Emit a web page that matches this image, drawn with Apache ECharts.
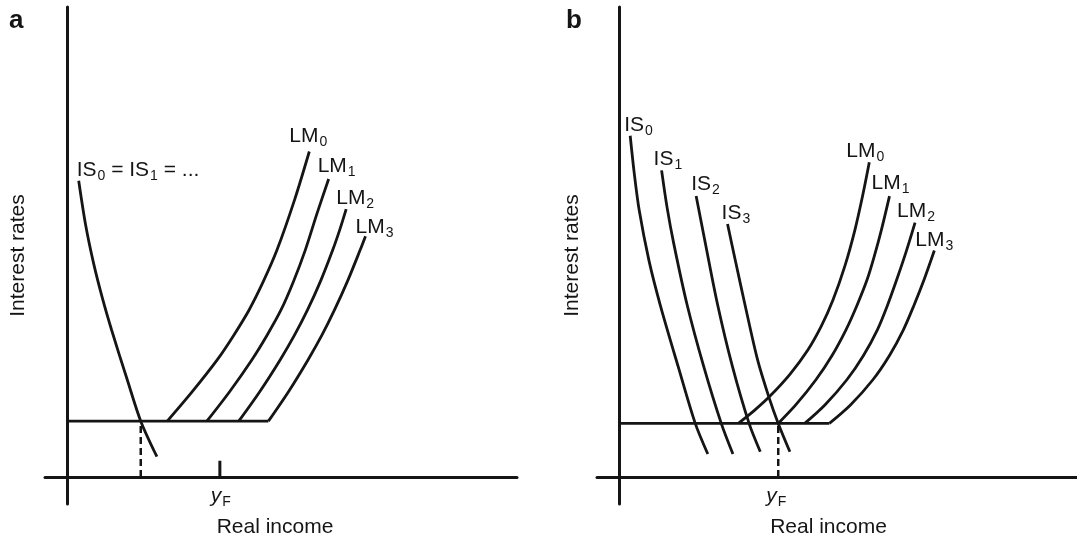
<!DOCTYPE html>
<html><head><meta charset="utf-8">
<script src="https://cdn.jsdelivr.net/npm/echarts@6/dist/echarts.min.js"></script>
<style>html,body{margin:0;padding:0;background:#fff}#c{width:1077px;height:539px}</style>
</head><body><div id="c"></div>
<script>
// ---------------- DATA : panel a ----------------
const aIS  = [[2.5,65.8],[4,56.2],[5.8,47.5],[7.8,39.6],[9.8,32.7],[13.3,21.6],[16.3,12.4],[19.9,4.5]];
const aLM0 = [[22.2,12.4],[27.8,19],[33.3,26],[37,31.5],[40.4,37.1],[43.6,43.5],[46.6,50.4],[50.5,61.5],[53.8,72.3]];
const aLM1 = [[31,12.4],[36.1,19],[41,26],[44.4,31.5],[47.5,37.1],[50.3,43.5],[52.9,50.4],[55.5,58.5],[58.1,66.2]];
const aLM2 = [[38.1,12.4],[42.8,19],[47.3,26],[50.5,31.5],[53.4,37.1],[56.3,43.5],[59,50.4],[60.6,55],[62,59.5]];
const aLM3 = [[44.7,12.4],[49.2,19],[53.5,26],[56.6,31.5],[59.4,37.1],[62.3,43.5],[65.1,50.4],[66.3,53.5]];
const aFloor = [[0,12.4],[44.7,12.4]];
const aEquilibrium = [[16.3,0],[16.3,12.4]];
const aYFTick = [[33.9,0],[33.9,3.6]];
// ---------------- DATA : panel b ----------------
const bIS0 = [[2.4,75.8],[3.3,67.5],[4.4,59.3],[6.6,48],[9.1,38.2],[13.1,24.5],[16.9,11.9],[19.7,5.1]];
const bIS1 = [[9.4,68.1],[10.6,60],[12.1,51.9],[15.1,38.2],[18.8,24.5],[22.7,11.9],[25.3,5.1]];
const bIS2 = [[17.1,62.4],[19,52.7],[21.9,38.2],[25.2,24.5],[28.9,11.9],[31.4,5.6]];
const bIS3 = [[24.1,56.2],[25.9,47.8],[28,38.2],[30.8,26],[33.3,17.8],[35.4,11.9],[38,5.6]];
const bLM0 = [[26.5,11.9],[30.1,14.8],[33.4,17.8],[38,22.8],[42,28.2],[45,33.5],[47.6,39.3],[50.3,47],[52.5,54.9],[54.2,62.4],[55.7,69.9]];
const bLM1 = [[35.4,11.9],[39.3,16],[43.8,21.6],[47.4,27],[50.5,32.7],[52.9,38],[55.2,43.8],[56.8,49],[58.4,54.9],[60.2,62.4]];
const bLM2 = [[41.3,11.9],[45.8,16],[50.7,21.6],[54.4,27],[57.5,32.7],[59.7,38],[61.8,43.8],[63.9,50],[65.9,56.5]];
const bLM3 = [[46.8,11.9],[51.5,16],[56.5,21.6],[60.2,27],[63.3,32.7],[65.6,38],[67.9,43.8],[70.2,50.3]];
const bFloor = [[0,11.9],[46.8,11.9]];
const bEquilibrium = [[35.4,0],[35.4,11.9]];
// ---------------- TEXT ----------------
const panelLetters = ['a','b'];
const aISName = 'IS_0 = IS_1 = ...';
const bISNames = ['IS_0','IS_1','IS_2','IS_3'];
const lmNames = ['LM_0','LM_1','LM_2','LM_3'];
const yFName = 'y';
const yFSub = 'F';
const xName = 'Real income';
const yName = 'Interest rates';

// ---------------- STYLE ----------------
const INK = '#151515';
const FONT = "'Liberation Sans', Arial, Helvetica, sans-serif";
const RICH = {
  n: {fontSize: 21, fontFamily: FONT, color: INK},
  s: {fontSize: 14, fontFamily: FONT, color: INK, padding: [12, 0, 0, 1]},
  i: {fontSize: 21, fontFamily: FONT, color: INK, fontStyle: 'italic'}
};
function rich(t) {
  return t.split(/(_\w)/).filter(Boolean)
    .map(p => p[0] === '_' ? '{s|' + p.slice(1) + '}' : '{n|' + p + '}').join('');
}
function topPoint(pts) { return pts.reduce((a, p) => p[1] > a[1] ? p : a); }
function lowPoint(pts) { return pts.reduce((a, p) => p[1] < a[1] ? p : a); }

function curve(gi, pts, name, lbl) {
  return {
    type: 'line', xAxisIndex: gi, yAxisIndex: gi, data: pts,
    symbol: 'none', smooth: 0.3, silent: true,
    lineStyle: {color: INK, width: 2.8},
    markPoint: name ? {
      symbol: 'circle', symbolSize: 0, silent: true,
      data: [{coord: topPoint(pts)}],
      label: {
        show: true, position: 'top', distance: 0,
        align: lbl.align || 'center', offset: lbl.offset,
        formatter: rich(name), rich: RICH
      }
    } : undefined
  };
}
function straight(gi, pts, dashed, width, yfOffset) {
  return {
    type: 'line', xAxisIndex: gi, yAxisIndex: gi, data: pts,
    symbol: 'none', silent: true,
    lineStyle: {color: INK, width: width, type: dashed ? [7, 4] : 'solid', cap: 'butt'},
    markPoint: yfOffset ? {
      symbol: 'circle', symbolSize: 0, silent: true,
      data: [{coord: lowPoint(pts)}],
      label: {
        show: true, position: 'bottom', distance: 6, offset: yfOffset,
        formatter: '{i|' + yFName + '}{s|' + yFSub + '}', rich: RICH
      }
    } : undefined
  };
}
function xAxis(gi, min, max, nameShift) {
  return {
    gridIndex: gi, type: 'value', min: min, max: max,
    axisLine: {onZero: true, lineStyle: {color: INK, width: 3}},
    axisTick: {show: false}, axisLabel: {show: false}, splitLine: {show: false},
    name: xName, nameLocation: 'middle', nameGap: 13,
    nameTextStyle: {fontSize: 21, fontFamily: FONT, color: INK, padding: [0, nameShift, 0, 0]}
  };
}
function yAxis(gi, gap) {
  return {
    gridIndex: gi, type: 'value', min: -6, max: 104.4,
    axisLine: {onZero: true, lineStyle: {color: INK, width: 3}},
    axisTick: {show: false}, axisLabel: {show: false}, splitLine: {show: false},
    name: yName, nameLocation: 'middle', nameGap: gap,
    nameTextStyle: {fontSize: 21, fontFamily: FONT, color: INK}
  };
}

const series = [
  straight(0, aFloor, false, 2.8), straight(0, aEquilibrium, true, 2.5),
  straight(0, aYFTick, false, 3, [1, 0]),
  curve(0, aIS, aISName, {align: 'left', offset: [-2, 2]}),
  curve(0, aLM0, lmNames[0], {offset: [-1, -2]}),
  curve(0, aLM1, lmNames[1], {offset: [8, 0]}),
  curve(0, aLM2, lmNames[2], {offset: [9, 2]}),
  curve(0, aLM3, lmNames[3], {offset: [9, 4]}),
  straight(1, bFloor, false, 2.8), straight(1, bEquilibrium, true, 2.5, [-2, 0]),
  curve(1, bIS0, bISNames[0], {align: 'left', offset: [-6, 2]}),
  curve(1, bIS1, bISNames[1], {align: 'left', offset: [-8, 2]}),
  curve(1, bIS2, bISNames[2], {align: 'left', offset: [-5, 1]}),
  curve(1, bIS3, bISNames[3], {align: 'left', offset: [-6, 2]}),
  curve(1, bLM0, lmNames[0], {offset: [-4, 2]}),
  curve(1, bLM1, lmNames[1], {offset: [1, 0]}),
  curve(1, bLM2, lmNames[2], {offset: [1, 2]}),
  curve(1, bLM3, lmNames[3], {offset: [0, 3]})
];

const chart = echarts.init(document.getElementById('c'), null, {renderer: 'canvas'});
chart.setOption({
  backgroundColor: '#fff',
  animation: false,
  title: [
    {text: panelLetters[0], left: 9, top: 8, padding: 0, textStyle: {fontSize: 26, fontWeight: 'bold', fontFamily: FONT, color: INK}},
    {text: panelLetters[1], left: 566, top: 8, padding: 0, textStyle: {fontSize: 26, fontWeight: 'bold', fontFamily: FONT, color: INK}}
  ],
  grid: [
    {left: 45, right: 560, top: 7, bottom: 35, outerBoundsMode: 'none', containLabel: false},
    {left: 597, right: 0, top: 7, bottom: 35, outerBoundsMode: 'none', containLabel: false}
  ],
  xAxis: [xAxis(0, -5, 100, 12), xAxis(1, -5, 102, 17)],
  yAxis: [yAxis(0, 16), yAxis(1, 14.5)],
  series: series
});
</script></body></html>
